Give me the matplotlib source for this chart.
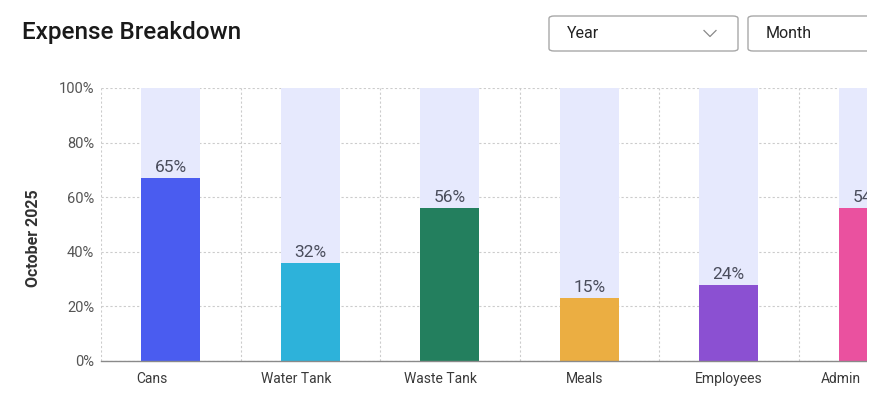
import numpy as np
import matplotlib.pyplot as plt
from matplotlib.patches import FancyBboxPatch, Rectangle
from matplotlib.lines import Line2D

plt.rcParams['font.family'] = ['Roboto', 'DejaVu Sans']

categories = ['Cans', 'Water Tank', 'Waste Tank', 'Meals', 'Employees', 'Admin']
bar_values = [67, 36, 56, 23, 28, 56]
label_values = [65, 32, 56, 15, 24, 54]
colors = ['#4a5cf0', '#2db2da', '#237f5e', '#ebae42', '#8b50d2', '#ea519f']
y_ticks = [0, 20, 40, 60, 80, 100]

W, H = 873, 412
fig = plt.figure(figsize=(8.73, 4.12), dpi=100)
ax = fig.add_axes([101 / W, 51 / H, 837 / W, 273 / H])

x = np.arange(len(categories))
w = 59 / 139.5
ax.bar(x, [100] * len(x), width=w, color='#e6e9fd', zorder=1)
ax.bar(x, bar_values, width=w, color=colors, zorder=2)
for xi, v, lab in zip(x, bar_values, label_values):
    ax.text(xi, v + 1.0, f'{lab}%', ha='center', va='bottom', fontsize=12.5,
            color='#4a4d5c', zorder=3)

ax.set_xlim(-0.5, len(x) - 0.5)
ax.set_ylim(0, 100)
# category labels sit a bit left of their bars; the last one is pushed inside the container
label_pos = x * 1.033 - 0.133
label_pos[-1] = 4.8
ax.set_xticks(label_pos)
ax.set_xticklabels(categories, fontsize=10, color='#3a3a3a')
ax.set_xticks(np.arange(-0.5, len(x), 1), minor=True)
ax.set_yticks(y_ticks)
ax.set_yticklabels([f'{t}%' for t in y_ticks], fontsize=10.5, color='#555555')
ax.tick_params(axis='both', which='both', length=0)
ax.tick_params(axis='x', pad=8)
ax.tick_params(axis='y', pad=5)
ax.grid(axis='y', color='#cccccc', linestyle=(0, (2, 2)), linewidth=0.8, zorder=0)
ax.grid(axis='x', which='minor', color='#cccccc', linestyle=(0, (2, 2)), linewidth=0.8, zorder=0)
ax.set_axisbelow(True)
for s in ['top', 'right', 'left']:
    ax.spines[s].set_visible(False)
ax.spines['bottom'].set_color('#8a8a8a')
ax.spines['bottom'].set_linewidth(1.0)

fig.text(33 / W, 1 - 238 / H, 'October 2025', rotation=90, fontsize=11.5,
         fontweight='semibold', color='#333333', ha='center', va='center')

fig.text(22 / W, 1 - 33 / H, 'Expense Breakdown', fontsize=17.5, fontweight='medium',
         color='#1a1a1a', va='center', ha='left')


# dropdown boxes
def box(x0, x1, y0, y1, label, chevron=False):
    p = FancyBboxPatch((x0 / W, 1 - y1 / H), (x1 - x0) / W, (y1 - y0) / H,
                       boxstyle='round,pad=0,rounding_size=0.006',
                       transform=fig.transFigure, facecolor='white',
                       edgecolor='#a8a8a8', linewidth=1.0)
    fig.patches.append(p)
    fig.text((x0 + 18) / W, 1 - (y0 + y1) / 2 / H, label, fontsize=11.5, color='#222222',
             va='center', ha='left')
    if chevron:
        cx, cy = 710, (y0 + y1) / 2
        fig.lines.append(Line2D([(cx - 6) / W, cx / W, (cx + 6) / W],
                                [1 - (cy - 3) / H, 1 - (cy + 3) / H, 1 - (cy - 3) / H],
                                transform=fig.transFigure, color='#888888', linewidth=0.9))


box(549, 738, 16, 51, 'Year', chevron=True)
box(748, 900, 16, 51, 'Month')

# content is clipped by its container a few pixels before the right edge
cover = Rectangle((867 / W, 0), 1, 1, transform=fig.transFigure,
                  facecolor='white', edgecolor='none', zorder=20)
fig.patches.append(cover)

fig.savefig('out.png', dpi=100)
